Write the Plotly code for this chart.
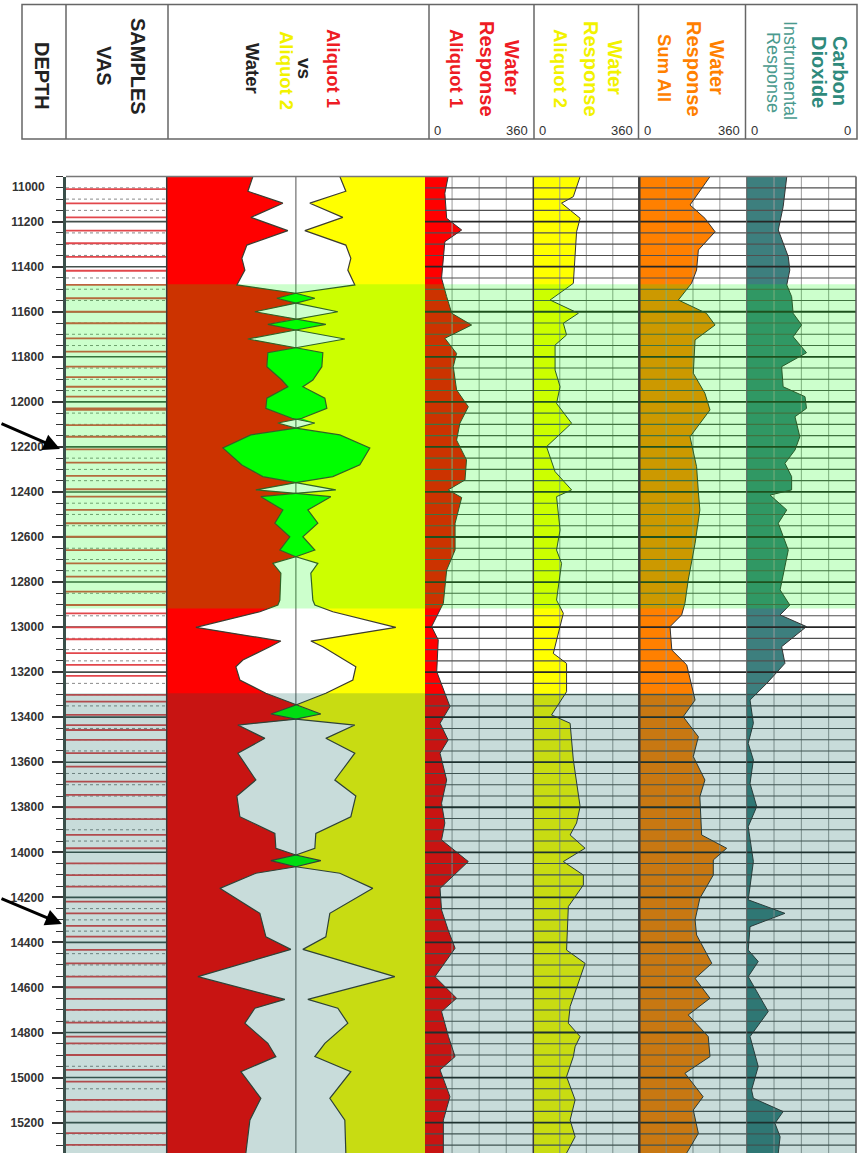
import plotly.graph_objects as go

# ---------------- DATA ----------------
depth_ticks = [11200, 11400, 11600, 11800, 12000, 12200, 12400, 12600, 12800, 13000, 13200,
               13400, 13600, 13800, 14000, 14200, 14400, 14600, 14800, 15000, 15200]

sample_depths = [11056, 11119, 11181, 11240, 11296, 11356, 11418, 11481, 11540, 11600, 11651, 11718,
                 11777, 11844, 11890, 11933, 11977, 12029, 12036, 12103, 12155, 12211, 12270, 12329,
                 12388, 12421, 12480, 12539, 12599, 12658, 12717, 12776, 12843, 12902, 12939, 13001,
                 13054, 13116, 13168, 13217, 13301, 13331, 13390, 13435, 13457, 13501, 13560, 13620,
                 13686, 13745, 13800, 13853, 13923, 13982, 14049, 14101, 14152, 14219, 14271, 14327,
                 14374, 14433, 14493, 14552, 14599, 14651, 14700, 14756, 14818, 14848, 14900, 14966,
                 15018, 15099, 15151, 15247, 15299]

# middle track: deviation from centre (positive = away from centre, negative = crossover)
mid_depth = [11000, 11065, 11118, 11181, 11240, 11304, 11363, 11415, 11481, 11518, 11540, 11562,
             11600, 11632, 11656, 11681, 11721, 11760, 11782, 11844, 11903, 11933, 11984, 12029,
             12073, 12094, 12117, 12147, 12205, 12280, 12332, 12359, 12391, 12406, 12421, 12480,
             12539, 12599, 12658, 12688, 12717, 12761, 12880, 12902, 12932, 13001, 13062, 13087,
             13146, 13176, 13235, 13294, 13346, 13386, 13409, 13435, 13494, 13560, 13679, 13750,
             13842, 13916, 13982, 14012, 14037, 14064, 14093, 14160, 14271, 14375, 14431, 14552,
             14653, 14692, 14759, 14848, 14907, 14974, 15092, 15189, 15335]
aliquot1_dev = [43, 48, 13, 45, 8, 49, 54, 51, 59, 0, -19, 0, 41, 0, -30, 0, 48, 0,
                -27, -26, -17, -7, -29, -31, -6, 18, 0, -44, -74, -64, -37, 0,
                40, 0, -35, -12, -22, -7, -19, 0, 23, 15, 16, 18, 36, 100,
                15, 26, 53, 60, 56, 30, 0, -25, 0, 58, 31, 58, 40, 59,
                56, 21, 20, 0, -25, 0, 40, 76, 36, 30, 5, 98,
                11, 41, 51, 28, 20, 55, 35, 46, 50]
aliquot2_dev = [44, 50, 14, 47, 9, 50, 55, 52, 59, 0, -19, 0, 42, 0, -28, 0, 49, 0,
                -28, -29, -14, -8, -29, -30, -4, 19, 0, -45, -73, -54, -33, 0,
                40, 0, -35, -13, -21, -6, -16, 0, 22, 15, 17, 19, 37, 100,
                15, 27, 49, 60, 57, 30, 0, -25, 0, 59, 30, 59, 39, 60,
                55, 20, 19, 0, -25, 0, 44, 77, 34, 30, 7, 99,
                12, 42, 52, 29, 19, 55, 34, 49, 50]

a1_depth = [11000, 11074, 11185, 11237, 11289, 11370, 11451, 11533, 11607, 11659, 11718, 11785,
            11844, 11947, 12022, 12095, 12170, 12258, 12347, 12391, 12425, 12539, 12658, 12747,
            12894, 12998, 13057, 13198, 13353, 13427, 13501, 13560, 13679, 13782, 13870, 13945,
            14041, 14160, 14256, 14345, 14426, 14552, 14648, 14707, 14818, 14907, 14966, 15085,
            15189, 15335]
a1_resp = [77, 66, 72, 122, 66, 61, 55, 72, 89, 155, 66, 105,
           94, 105, 144, 116, 105, 138, 133, 77, 122, 100, 100, 72,
           61, 22, 44, 39, 83, 50, 77, 50, 72, 55, 66, 55,
           144, 50, 55, 77, 100, 33, 105, 55, 78, 100, 50, 83,
           61, 61]

a2_depth = [11000, 11089, 11118, 11185, 11245, 11474, 11548, 11607, 11651, 11703, 11748, 11859,
            11933, 12007, 12095, 12199, 12310, 12391, 12421, 12569, 12658, 12717, 12880, 12939,
            13117, 13161, 13287, 13390, 13427, 13590, 13797, 13870, 13923, 13982, 14041, 14101,
            14145, 14241, 14434, 14493, 14685, 14759, 14818, 14863, 14907, 14996, 15099, 15189,
            15263, 15335]
a2_resp = [159, 136, 96, 159, 147, 136, 57, 153, 102, 113, 74, 74,
           91, 79, 130, 45, 74, 130, 79, 91, 79, 96, 79, 102,
           68, 113, 113, 62, 125, 136, 159, 147, 125, 176, 102, 170,
           170, 119, 113, 176, 125, 119, 159, 142, 136, 113, 142, 125,
           142, 113]

sum_depth = [11000, 11074, 11126, 11185, 11245, 11326, 11415, 11474, 11548, 11607, 11659, 11725,
             11873, 11962, 12036, 12155, 12288, 12400, 12480, 12628, 12791, 12894, 12946, 12998,
             13102, 13168, 13324, 13398, 13487, 13575, 13679, 13753, 13880, 13923, 13982, 14034,
             14101, 14204, 14300, 14367, 14493, 14560, 14648, 14722, 14818, 14907, 14981, 15085,
             15144, 15248, 15335]
sum_resp = [237, 198, 170, 220, 254, 198, 192, 175, 131, 225, 254, 187,
            181, 220, 237, 170, 192, 198, 203, 187, 164, 153, 142, 103,
            109, 159, 187, 147, 198, 181, 220, 203, 209, 209, 293, 248,
            248, 203, 187, 192, 243, 187, 237, 164, 231, 237, 153, 214,
            181, 198, 159]

co2_depth = [11000, 11134, 11237, 11356, 11415, 11481, 11533, 11607, 11659, 11711, 11782, 11844,
             11933, 11977, 12029, 12066, 12155, 12214, 12273, 12332, 12391, 12414, 12480, 12539,
             12658, 12835, 12902, 12946, 12998, 13087, 13161, 13250, 13324, 13427, 13516, 13590,
             13694, 13797, 13886, 13945, 14041, 14211, 14271, 14330, 14434, 14485, 14552, 14707,
             14818, 14951, 15055, 15092, 15151, 15203, 15263, 15335]
co2_resp = [132, 120, 104, 137, 142, 132, 148, 153, 181, 153, 197, 115,
            120, 192, 197, 159, 175, 159, 126, 148, 148, 77, 132, 104,
            137, 110, 142, 110, 197, 115, 126, 66, 11, 22, 5, 22,
            11, 33, 5, 11, 22, 5, 126, 11, 5, 38, 5, 71,
            11, 38, 16, 22, 120, 93, 110, 104]

zone_green = (11478, 12917)
zone_grey = (13294, 15335)

# ---------------- LAYOUT GEOMETRY ----------------
W, H = 863, 1153
def px(x): return x / W
def py(y): return 1 - y / H

Y_TOP = 176.6
D_TOP, D_BOT = 11000, 15335
FONT = "Liberation Sans, Arial, sans-serif"

tracks = {
    'x':  (66, 166.7, [0, 1]),
    'x2': (166.7, 425, [-129.2, 129.2]),
    'x3': (425, 533.3, [0, 360]),
    'x4': (533.3, 639.3, [0, 360]),
    'x5': (639.3, 746.7, [0, 360]),
    'x6': (746.7, 856, [0, 360]),
}

fig = go.Figure()

def hlines(xa, x0, x1, depths, color, width, dash='solid'):
    xs, ys = [], []
    for d in depths:
        xs += [x0, x1, None]
        ys += [d, d, None]
    fig.add_trace(go.Scatter(x=xs, y=ys, xaxis=xa, yaxis='y', mode='lines',
                             line=dict(color=color, width=width, dash=dash),
                             hoverinfo='skip', showlegend=False))

def vlines(xa, xs_, color, width):
    xs, ys = [], []
    for x in xs_:
        xs += [x, x, None]
        ys += [D_TOP, D_BOT, None]
    fig.add_trace(go.Scatter(x=xs, y=ys, xaxis=xa, yaxis='y', mode='lines',
                             line=dict(color=color, width=width),
                             hoverinfo='skip', showlegend=False))

grid50 = [d for d in range(11050, 15335, 50) if d % 200 != 0]
grid200 = [d for d in range(11200, 15335, 200)]

# ---- samples track ----
hlines('x', 0, 1, grid50, '#8a8a8a', 1, 'dot')
hlines('x', 0, 1, grid200, '#44504c', 1.6)
hlines('x', 0, 1, sample_depths, '#e2474c', 1.8)

# ---- middle track ----
L = [-v for v in aliquot1_dev]
R = [v for v in aliquot2_dev]
fig.add_trace(go.Scatter(x=[0, 0], y=[D_TOP, D_BOT], xaxis='x2', yaxis='y', mode='lines',
                         line=dict(color='#8c8c8c', width=1.5), hoverinfo='skip', showlegend=False))
fig.add_trace(go.Scatter(x=[-129.2] + L + [-129.2], y=[mid_depth[0]] + mid_depth + [mid_depth[-1]],
                         xaxis='x2', yaxis='y', mode='lines', fill='toself', fillcolor='#ff0000',
                         line=dict(width=0), hoverinfo='skip', showlegend=False))
fig.add_trace(go.Scatter(x=[129.2] + R + [129.2], y=[mid_depth[0]] + mid_depth + [mid_depth[-1]],
                         xaxis='x2', yaxis='y', mode='lines', fill='toself', fillcolor='#ffff00',
                         line=dict(width=0), hoverinfo='skip', showlegend=False))
top = [max(l, r) for l, r in zip(L, R)]
fig.add_trace(go.Scatter(x=top + R[::-1], y=mid_depth + mid_depth[::-1],
                         xaxis='x2', yaxis='y', mode='lines', fill='toself', fillcolor='#00ff00',
                         line=dict(width=0), hoverinfo='skip', showlegend=False))
for curve in (L, R):
    fig.add_trace(go.Scatter(x=curve, y=mid_depth, xaxis='x2', yaxis='y', mode='lines',
                             line=dict(color='#3c3c30', width=1.2), hoverinfo='skip', showlegend=False))

# ---- response tracks ----
resp = [('x3', a1_depth, a1_resp, '#ff0000'),
        ('x4', a2_depth, a2_resp, '#ffff00'),
        ('x5', sum_depth, sum_resp, '#ff8000'),
        ('x6', co2_depth, co2_resp, '#3d7f7e')]
for xa, dep, val, col in resp:
    fig.add_trace(go.Scatter(x=[0] + val + [0], y=[dep[0]] + dep + [dep[-1]], xaxis=xa, yaxis='y',
                             mode='lines', fill='toself', fillcolor=col, line=dict(width=0),
                             hoverinfo='skip', showlegend=False))
    vlines(xa, [90, 180, 270], '#9a9a9a', 1)
    hlines(xa, 0, 360, grid50, '#505050', 1.1)
    hlines(xa, 0, 360, grid200, '#262626', 1.8)
    fig.add_trace(go.Scatter(x=val, y=dep, xaxis=xa, yaxis='y', mode='lines',
                             line=dict(color='#333333', width=1), hoverinfo='skip', showlegend=False))

# ---------------- SHAPES ----------------
shapes = []
# zone overlays
shapes.append(dict(type='rect', xref='paper', yref='y', x0=px(66), x1=px(856), y0=zone_green[0], y1=zone_green[1],
                   fillcolor='rgba(0,255,0,0.2)', line=dict(width=0), layer='above'))
shapes.append(dict(type='rect', xref='paper', yref='y', x0=px(66), x1=px(856), y0=zone_grey[0], y1=zone_grey[1],
                   fillcolor='rgba(0,93,83,0.216)', line=dict(width=0), layer='above'))
# track borders
for xb, wd, c in [(166.7, 1.5, '#3a3a3a'), (533.3, 1.5, '#3a3a3a'), (639.3, 2.5, '#3a3a3a'),
                  (746.7, 1, '#555555'), (856, 1.5, '#555555')]:
    shapes.append(dict(type='line', xref='paper', yref='paper', x0=px(xb), x1=px(xb), y0=0, y1=py(Y_TOP),
                       line=dict(color=c, width=wd), layer='above'))
shapes.append(dict(type='line', xref='paper', yref='paper', x0=px(66), x1=px(856), y0=py(Y_TOP), y1=py(Y_TOP),
                   line=dict(color='#777777', width=1.5), layer='above'))
# header box
shapes.append(dict(type='rect', xref='paper', yref='paper', x0=px(22), x1=px(857), y0=py(139), y1=py(4.5),
                   line=dict(color='#666666', width=1.5), fillcolor='rgba(0,0,0,0)'))
for xb in [66, 168, 429, 534, 638.5, 745.5]:
    shapes.append(dict(type='line', xref='paper', yref='paper', x0=px(xb), x1=px(xb), y0=py(139), y1=py(4.5),
                       line=dict(color='#666666', width=1.5)))

# ---------------- ANNOTATIONS ----------------
ann = []
def rot(text, x, y, size, color, bold=True):
    t = f"<b>{text}</b>" if bold else text
    ann.append(dict(text=t, x=px(x), y=py(y), xref='paper', yref='paper', showarrow=False,
                    textangle=90, xanchor='center', yanchor='middle',
                    font=dict(family=FONT, size=size, color=color)))

RED, YEL, ORA, TEAL, TEAL2 = '#ee1c24', '#f2f200', '#ff8000', '#2f8a7c', '#4a9a8e'
rot('DEPTH', 42, 76, 20, '#222222')
rot('SAMPLES', 138, 66, 20, '#222222')
rot('VAS', 104, 66, 20, '#222222')
rot('Aliquot 1', 334, 68, 18.5, RED)
rot('vs', 305, 68, 19, '#222222')
rot('Aliquot 2', 287, 70, 18.5, YEL)
rot('Water', 253, 68, 18.5, '#222222')

rot('Water', 512, 67, 20, RED)
rot('Response', 487, 69, 20, RED)
rot('Aliquot 1', 457, 68, 18.5, RED)
rot('Water', 615, 67, 20, YEL)
rot('Response', 591, 69, 20, YEL)
rot('Aliquot 2', 561, 68, 18.5, YEL)
rot('Water', 717, 67, 20, ORA)
rot('Response', 694, 69, 20, ORA)
rot('Sum All', 665, 68, 18.5, ORA)
rot('Carbon', 840, 71, 20, TEAL)
rot('Dioxide', 819, 72, 20, TEAL)
rot('Instrumental', 790, 70, 18, TEAL2, bold=False)
rot('Response', 773, 72, 18, TEAL2, bold=False)

def lab(text, x, y, anchor):
    ann.append(dict(text=text, x=px(x), y=py(y), xref='paper', yref='paper', showarrow=False,
                    xanchor=anchor, yanchor='middle', font=dict(family=FONT, size=13, color='#333333')))
for x0, x1, right in [(429, 534, '360'), (534, 638.5, '360'), (638.5, 745.5, '360'), (745.5, 857, '0')]:
    lab('0', x0 + 3, 130, 'left')
    lab(right, x1 - 4, 130, 'right')

# 11000 depth label (shifted into view)
ann.append(dict(text='<b>11000</b>', x=px(47), y=py(187), xref='paper', yref='paper', showarrow=False,
                xanchor='right', yanchor='middle', font=dict(family=FONT, size=12, color='#333333')))
# arrows
for hx, hy, tx, ty in [(60, 449, 0, 423), (62, 924, 0, 898)]:
    ann.append(dict(text='', x=px(hx), y=py(hy), xref='paper', yref='paper', showarrow=True,
                    ax=tx - hx, ay=ty - hy, axref='pixel', ayref='pixel',
                    arrowhead=2, arrowsize=1.1, arrowwidth=3, arrowcolor='#000000'))

# ---------------- AXES ----------------
layout = dict(width=W, height=H, margin=dict(l=0, r=0, t=0, b=0),
              paper_bgcolor='white', plot_bgcolor='white', showlegend=False,
              shapes=shapes, annotations=ann, hovermode=False)
for name, (x0, x1, rng) in tracks.items():
    key = 'xaxis' if name == 'x' else 'xaxis' + name[1:]
    layout[key] = dict(domain=[px(x0), px(x1)], range=rng, anchor='y', visible=False,
                       showgrid=False, zeroline=False, fixedrange=True)
layout['yaxis'] = dict(domain=[0, py(Y_TOP)], range=[D_BOT, D_TOP], anchor='x',
                       tickmode='array', tickvals=depth_ticks,
                       ticktext=[f"<b>{v}</b>" for v in depth_ticks],
                       ticks='outside', ticklen=11, tickwidth=1.5, tickcolor='#333333',
                       showline=True, linewidth=2.5, linecolor='#3a4f4a',
                       showgrid=False, zeroline=False, fixedrange=True,
                       tickfont=dict(family=FONT, size=12, color='#333333'),
                       ticklabelstandoff=6,
                       minor=dict(tickmode='linear', tick0=11000, dtick=50, ticks='outside',
                                  ticklen=7, tickwidth=1, tickcolor='#333333', showgrid=False))
fig.update_layout(**layout)
fig.write_html("out.html")
